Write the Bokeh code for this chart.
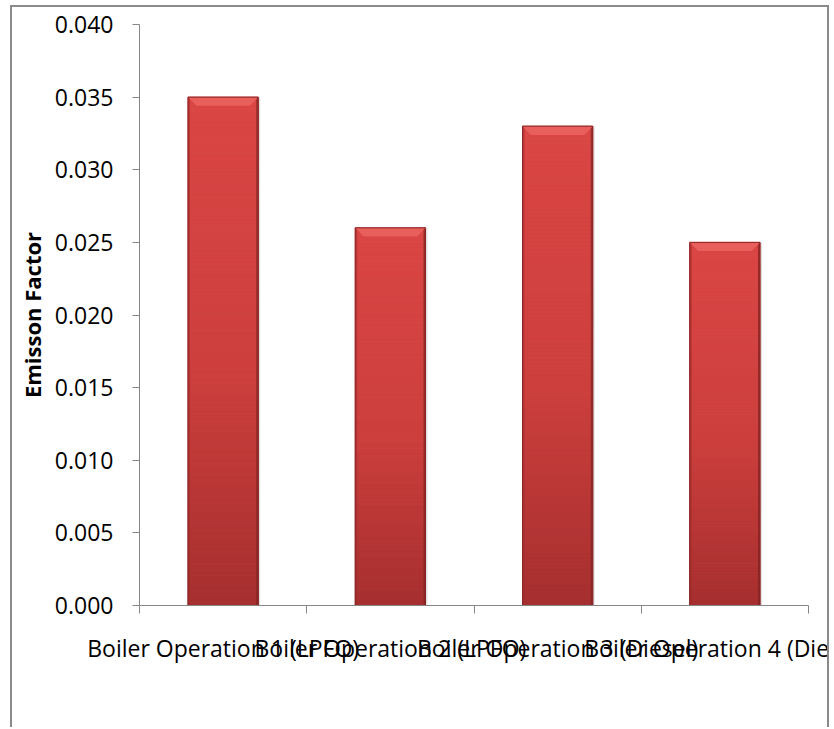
from bokeh.plotting import figure
from bokeh.layouts import column
from bokeh.models import Range1d, FixedTicker, PrintfTickFormatter, LinearAxis
from bokeh.embed import file_html
from bokeh.resources import INLINE

# Emission factor per boiler operation
categories = [
    "Boiler Operation 1 (LPFO)",
    "Boiler Operation 2 (LPFO)",
    "Boiler Operation 3 (Diesel)",
    "Boiler Operation 4 (Diesel)",
]
emission_factor = [0.035, 0.026, 0.033, 0.025]
y_ticks = [0.0, 0.005, 0.010, 0.015, 0.020, 0.025, 0.030, 0.035, 0.040]

FONT = "Open Sans"
AXIS_GREY = "#868686"
BORDER = "2px solid #8a8a8a"

# the canvas is wider than the chart box so long category names run past
# the right edge and are cut off by the box instead of being pushed inward
p = figure(
    width=900, height=722, sizing_mode="fixed",
    x_range=Range1d(0, len(categories)), y_range=Range1d(0, 0.040),
    output_backend="svg", toolbar_location=None,
    x_axis_location=None, y_axis_location=None,
    min_border_left=127, min_border_right=104,
    min_border_top=17, min_border_bottom=124,
)
p.grid.visible = False
p.outline_line_color = None
p.background_fill_color = "white"
p.border_fill_color = "white"

# bar centres and shading: vertical gradient split into thin slices
centers = [i + 0.5 for i in range(len(categories))]
bar_w = 0.42
n_slices = 120
stops = [(0.0, (0xDA, 0x46, 0x44)), (0.55, (0xCC, 0x3F, 0x3D)), (1.0, (0xA6, 0x2F, 0x2F))]


def shade(f):
    for (f0, c0), (f1, c1) in zip(stops[:-1], stops[1:]):
        if f0 <= f <= f1:
            t = (f - f0) / (f1 - f0)
            r, g, b = (round(a + (bb - a) * t) for a, bb in zip(c0, c1))
            return f"#{r:02x}{g:02x}{b:02x}"
    return "#a62f2f"


xs, tops, bottoms, colors = [], [], [], []
for c, v in zip(centers, emission_factor):
    for k in range(n_slices):
        f_top = k / n_slices
        f_bot = (k + 1) / n_slices
        xs.append(c)
        tops.append(v * (1 - f_top))
        bottoms.append(v * (1 - f_bot))
        colors.append(shade((f_top + f_bot) / 2))

# soft shadow on the right of each bar
p.vbar(x=[c + 0.012 for c in centers], width=bar_w, top=emission_factor, bottom=0,
       fill_color="#000000", fill_alpha=0.12, line_color=None)
p.vbar(x=xs, width=bar_w, top=tops, bottom=bottoms, fill_color=colors, line_color=colors, line_width=1)

# darker side edges
edge = 0.012
p.vbar(x=[c - bar_w / 2 + edge / 2 for c in centers], width=edge, top=emission_factor,
       fill_color="#9e2c2c", fill_alpha=0.55, line_color=None)
p.vbar(x=[c + bar_w / 2 - edge / 2 for c in centers], width=edge, top=emission_factor,
       fill_color="#7e2222", fill_alpha=0.7, line_color=None)

# bevelled highlight on top of each bar
bevel_h = 0.0006
bevel_in = 0.05
pxs, pys = [], []
for c, v in zip(centers, emission_factor):
    l, r = c - bar_w / 2, c + bar_w / 2
    pxs.append([l, r, r - bevel_in, l + bevel_in])
    pys.append([v, v, v - bevel_h, v - bevel_h])
p.patches(pxs, pys, fill_color="#e9625f", fill_alpha=0.9, line_color=None)
p.vbar(x=centers, width=bar_w, top=emission_factor, bottom=0,
       fill_color=None, line_color="#8a2626", line_width=1)

# y axis
yaxis = LinearAxis(
    ticker=FixedTicker(ticks=y_ticks, minor_ticks=[]),
    formatter=PrintfTickFormatter(format="%.3f"),
    axis_label="Emisson Factor",
)
yaxis.axis_line_color = AXIS_GREY
yaxis.major_tick_line_color = AXIS_GREY
yaxis.major_tick_out = 7
yaxis.major_tick_in = 0
yaxis.minor_tick_line_color = None
yaxis.major_label_text_font = FONT
yaxis.major_label_text_font_size = "23px"
yaxis.major_label_text_color = "black"
yaxis.major_label_standoff = 19
yaxis.axis_label_text_font = FONT
yaxis.axis_label_text_font_style = "bold"
yaxis.axis_label_text_font_size = "22px"
yaxis.axis_label_text_color = "black"
yaxis.axis_label_standoff = 5
p.add_layout(yaxis, "left")

# x axis: names at bar centres, tick marks at category boundaries
xaxis = LinearAxis(
    ticker=FixedTicker(ticks=centers, minor_ticks=list(range(len(categories) + 1))),
    major_label_overrides={c: name for c, name in zip(centers, categories)},
)
xaxis.axis_line_color = AXIS_GREY
xaxis.major_tick_line_color = None
xaxis.major_tick_out = 0
xaxis.major_tick_in = 0
xaxis.minor_tick_line_color = AXIS_GREY
xaxis.minor_tick_out = 8
xaxis.minor_tick_in = 0
xaxis.major_label_text_font = FONT
xaxis.major_label_text_font_size = "23px"
xaxis.major_label_text_color = "black"
xaxis.major_label_standoff = 18
p.add_layout(xaxis, "below")

# chart box: grey frame that also trims whatever runs past its right edge
box = column(
    p, sizing_mode="fixed",
    margin=(5, 0, 0, 10),
    styles={
        "width": "819px", "max-width": "819px", "height": "722px",
        "overflow": "hidden",
        "border-left": BORDER, "border-top": BORDER, "border-right": BORDER,
    },
)

open("out.html", "w").write(file_html(box, INLINE))
